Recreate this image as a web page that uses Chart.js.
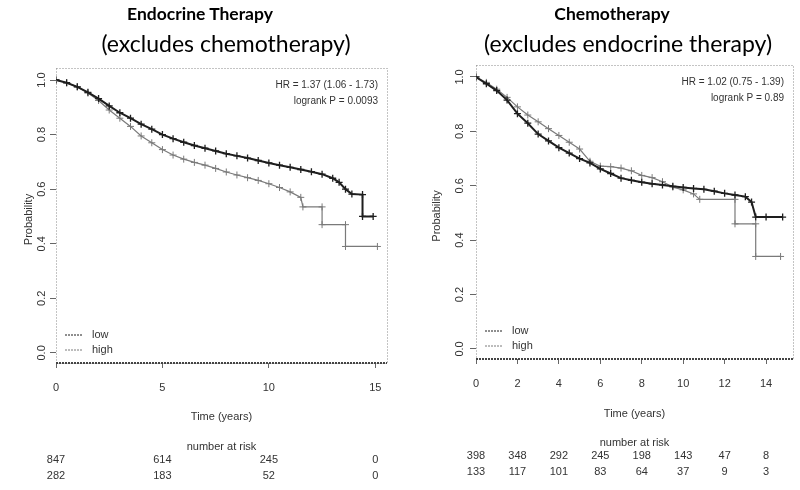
<!DOCTYPE html>
<html lang="en">
<head>
<meta charset="UTF-8">
<title>Survival curves</title>
<script src="https://cdn.jsdelivr.net/npm/chart.js"></script>
<style>
  body { margin: 0; background: #fff; width: 800px; height: 490px; position: relative; overflow: hidden; font-family: Lato, "Noto Sans", sans-serif; }
  .panel { position: absolute; top: 0; width: 400px; height: 490px; }
  .panel canvas { position: absolute; left: 0; top: 0; }
  .title { position: absolute; width: 400px; text-align: center; color: #000; white-space: nowrap; }
  .t1 { top: 3px; font-weight: bold; font-size: 17.5px; }
  .t2 { top: 29px; font-size: 23px; }
</style>
</head>
<body>
<div class="panel" style="left:0">
  <canvas id="endoChart" width="400" height="490"></canvas>
  <div class="title t1" style="left:0">Endocrine Therapy</div>
  <div class="title t2" style="left:26px">(excludes chemotherapy)</div>
</div>
<div class="panel" style="left:400px">
  <canvas id="chemoChart" width="400" height="490"></canvas>
  <div class="title t1" style="left:12px">Chemotherapy</div>
  <div class="title t2" style="left:28px">(excludes endocrine therapy)</div>
</div>

<script>
// shared axis ticks
const yTicks = [0, 0.2, 0.4, 0.6, 0.8, 1.0];
const yTickLabels = ['0.0', '0.2', '0.4', '0.6', '0.8', '1.0'];

// endocrine therapy panel
const endoXTicks = [0, 5, 10, 15];
const endoLowTime = [0, 0.5, 1, 1.5, 2, 2.5, 3, 3.5, 4, 4.5, 5, 5.5, 6, 6.5, 7, 7.5, 8, 8.5, 9, 9.5, 10, 10.5, 11, 11.5, 12, 12.5, 13, 13.3, 13.6, 13.9, 14.4, 14.4, 14.9];
const endoLowProb = [1.0, 0.99, 0.975, 0.955, 0.932, 0.905, 0.88, 0.86, 0.838, 0.82, 0.80, 0.785, 0.772, 0.76, 0.75, 0.74, 0.73, 0.722, 0.714, 0.705, 0.696, 0.688, 0.68, 0.672, 0.664, 0.655, 0.64, 0.625, 0.60, 0.582, 0.58, 0.50, 0.50];
const endoHighTime = [0, 0.5, 1, 1.5, 2, 2.5, 3, 3.5, 4, 4.5, 5, 5.5, 6, 6.5, 7, 7.5, 8, 8.5, 9, 9.5, 10, 10.5, 11, 11.5, 11.6, 12.5, 12.5, 13.6, 13.6, 15.1];
const endoHighProb = [1.0, 0.99, 0.975, 0.952, 0.925, 0.89, 0.86, 0.83, 0.795, 0.77, 0.745, 0.725, 0.71, 0.698, 0.688, 0.676, 0.663, 0.652, 0.642, 0.632, 0.62, 0.606, 0.59, 0.57, 0.535, 0.535, 0.47, 0.47, 0.39, 0.39];
const endoRiskLow = ['847', '614', '245', '0'];
const endoRiskHigh = ['282', '183', '52', '0'];
const endoStats = ['HR = 1.37 (1.06 - 1.73)', 'logrank P = 0.0093'];

// chemotherapy panel
const chemoXTicks = [0, 2, 4, 6, 8, 10, 12, 14];
const chemoLowTime = [0, 0.5, 1, 1.5, 2, 2.5, 3, 3.5, 4, 4.5, 5, 5.5, 6, 6.5, 7, 7.5, 8, 8.5, 9, 9.5, 10, 10.5, 11, 11.5, 12, 12.5, 13, 13.3, 13.5, 14, 14.8];
const chemoLowProb = [1.0, 0.975, 0.95, 0.915, 0.865, 0.83, 0.79, 0.765, 0.74, 0.72, 0.70, 0.684, 0.662, 0.645, 0.628, 0.62, 0.613, 0.607, 0.603, 0.598, 0.594, 0.59, 0.587, 0.58, 0.572, 0.566, 0.56, 0.54, 0.485, 0.485, 0.485];
const chemoHighTime = [0, 0.5, 1, 1.5, 2, 2.5, 3, 3.5, 4, 4.5, 5, 5.5, 6, 6.5, 7, 7.5, 8, 8.5, 9, 9.5, 10, 10.5, 10.8, 12.5, 12.5, 13.5, 13.5, 14.7];
const chemoHighProb = [1.0, 0.98, 0.955, 0.925, 0.89, 0.86, 0.835, 0.81, 0.785, 0.76, 0.735, 0.69, 0.672, 0.67, 0.665, 0.655, 0.638, 0.63, 0.615, 0.595, 0.585, 0.57, 0.55, 0.55, 0.46, 0.46, 0.34, 0.34];
const chemoRiskLow = ['398', '348', '292', '245', '198', '143', '47', '8'];
const chemoRiskHigh = ['133', '117', '101', '83', '64', '37', '9', '3'];
const chemoStats = ['HR = 1.02 (0.75 - 1.39)', 'logrank P = 0.89'];

const txt = '#333';
const smallFont = '10px "Liberation Sans", Arial, sans-serif';
const tickFont = '11px "Liberation Sans", Arial, sans-serif';

function pts(t, p) {
    return t.map((v, i) => ({ x: v, y: p[i] }));
}

// draws the R-style decorations from the chart's own scales
function decorations(cfg) {
    return {
        id: 'decor',
        afterDraw(chart) {
            const ctx = chart.ctx;
            const ca = chart.chartArea;
            const xs = chart.scales.x;
            const ys = chart.scales.y;
            ctx.save();

            // dotted plot box
            ctx.strokeStyle = '#888';
            ctx.lineWidth = 1;
            ctx.setLineDash([1, 2]);
            ctx.strokeRect(ca.left + 0.5, ca.top + 0.5, ca.right - ca.left, ca.bottom - ca.top);
            ctx.strokeStyle = '#444';
            ctx.lineWidth = 2;
            ctx.setLineDash([2, 1]);
            ctx.beginPath();
            ctx.moveTo(ca.left, ca.bottom);
            ctx.lineTo(ca.right, ca.bottom);
            ctx.stroke();
            ctx.setLineDash([]);

            ctx.fillStyle = txt;
            // rotated y tick labels
            ctx.font = tickFont;
            ctx.textAlign = 'center';
            ctx.textBaseline = 'middle';
            yTicks.forEach((v, i) => {
                ctx.save();
                ctx.translate(cfg.yLabelX, ys.getPixelForValue(v));
                ctx.rotate(-Math.PI / 2);
                ctx.fillText(yTickLabels[i], 0, 0);
                ctx.restore();
            });
            ctx.save();
            ctx.translate(cfg.probX, (ca.top + ca.bottom) / 2 + 4);
            ctx.rotate(-Math.PI / 2);
            ctx.fillText('Probability', 0, 0);
            ctx.restore();

            const cx = (ca.left + ca.right) / 2;
            ctx.fillText('Time (years)', cx, cfg.timeY);
            ctx.fillText('number at risk', cx, cfg.riskY);
            cfg.xTicks.forEach((t, i) => {
                const px = xs.getPixelForValue(t);
                ctx.fillText(cfg.riskLow[i], px, cfg.riskY + 13);
                ctx.fillText(cfg.riskHigh[i], px, cfg.riskY + 29);
            });

            // HR / logrank
            ctx.font = smallFont;
            ctx.textAlign = 'right';
            ctx.fillText(cfg.stats[0], ca.right - 9, ca.top + 17);
            ctx.fillText(cfg.stats[1], ca.right - 9, ca.top + 33);

            // legend
            ctx.textAlign = 'left';
            ctx.font = tickFont;
            chart.data.datasets.forEach((ds, i) => {
                const ly = cfg.legendY + i * 15;
                ctx.strokeStyle = ds.borderColor;
                ctx.lineWidth = 1;
                ctx.setLineDash([2, 1]);
                ctx.beginPath();
                ctx.moveTo(ca.left + 9, ly);
                ctx.lineTo(ca.left + 26, ly);
                ctx.stroke();
                ctx.setLineDash([]);
                ctx.fillStyle = txt;
                ctx.fillText(ds.label, ca.left + 36, ly);
            });
            ctx.restore();
        }
    };
}

function makeChart(id, cfg) {
    new Chart(document.getElementById(id), {
        type: 'line',
        data: {
            datasets: [{
                label: 'low',
                data: pts(cfg.lowT, cfg.lowP),
                borderColor: '#1e1e1e',
                borderWidth: 2,
                pointStyle: 'cross',
                pointRadius: 3.5,
                pointBorderWidth: 1.3,
                pointBorderColor: '#1e1e1e',
                tension: 0
            }, {
                label: 'high',
                data: pts(cfg.highT, cfg.highP),
                borderColor: '#7a7a7a',
                borderWidth: 1.2,
                pointStyle: 'cross',
                pointRadius: 3.5,
                pointBorderWidth: 1,
                pointBorderColor: '#7a7a7a',
                tension: 0
            }]
        },
        options: {
            responsive: false,
            animation: false,
            layout: { padding: cfg.padding },
            plugins: { legend: { display: false }, tooltip: { enabled: false } },
            scales: {
                x: {
                    type: 'linear',
                    min: 0,
                    max: cfg.xMax,
                    afterBuildTicks: s => { s.ticks = cfg.xTicks.map(v => ({ value: v })); },
                    afterFit: s => { s.height = 30; },
                    border: { display: false },
                    grid: { drawOnChartArea: false, tickLength: 5, color: '#666' },
                    ticks: { padding: 13, color: txt, font: { family: '"Liberation Sans", Arial, sans-serif', size: 11 }, maxRotation: 0, autoSkip: false }
                },
                y: {
                    min: -0.037,
                    max: 1.044,
                    afterBuildTicks: s => { s.ticks = yTicks.map(v => ({ value: v })); },
                    afterFit: s => { s.width = cfg.yWidth; },
                    border: { display: false },
                    grid: { drawOnChartArea: false, tickLength: 6, color: '#666' },
                    ticks: { display: false }
                }
            }
        },
        plugins: [decorations(cfg)]
    });
}

makeChart('endoChart', {
    lowT: endoLowTime, lowP: endoLowProb, highT: endoHighTime, highP: endoHighProb,
    xTicks: endoXTicks, xMax: 15.55, riskLow: endoRiskLow, riskHigh: endoRiskHigh, stats: endoStats,
    padding: { top: 68, right: 13, bottom: 97, left: 0 }, yWidth: 56,
    yLabelX: 42, probX: 29, timeY: 417, riskY: 447, legendY: 335
});

makeChart('chemoChart', {
    lowT: chemoLowTime, lowP: chemoLowProb, highT: chemoHighTime, highP: chemoHighProb,
    xTicks: chemoXTicks, xMax: 15.3, riskLow: chemoRiskLow, riskHigh: chemoRiskHigh, stats: chemoStats,
    padding: { top: 65, right: 7, bottom: 101, left: 0 }, yWidth: 76,
    yLabelX: 60, probX: 37, timeY: 414, riskY: 443, legendY: 331
});
</script>
</body>
</html>
